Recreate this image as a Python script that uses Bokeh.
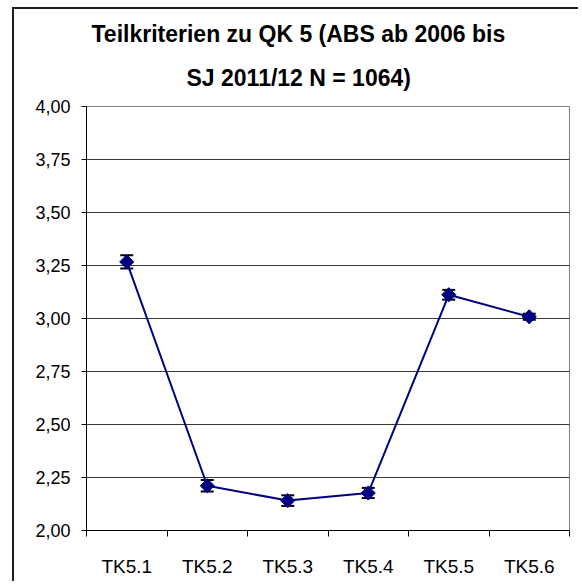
from bokeh.plotting import figure
from bokeh.models import (ColumnDataSource, Whisker, TeeHead, FixedTicker,
                          CustomJSTickFormatter, Range1d, Title)
from bokeh.embed import file_html
from bokeh.resources import INLINE

categories = ["TK5.1", "TK5.2", "TK5.3", "TK5.4", "TK5.5", "TK5.6"]
means = [3.267, 2.211, 2.141, 2.177, 3.112, 3.008]
errors = [0.031, 0.027, 0.025, 0.024, 0.023, 0.014]
y_ticks = [2.00, 2.25, 2.50, 2.75, 3.00, 3.25, 3.50, 3.75, 4.00]
title_lines = ["Teilkriterien zu QK 5 (ABS ab 2006 bis", "SJ 2011/12 N = 1064)"]

centers = [i + 0.5 for i in range(len(categories))]
bounds = list(range(len(categories) + 1))

src = ColumnDataSource(dict(
    x=centers, y=means,
    upper=[m + e for m, e in zip(means, errors)],
    lower=[m - e for m, e in zip(means, errors)],
))

FONT = "Liberation Sans"

p = figure(width=566, height=574, output_backend="svg", toolbar_location=None,
           title=None,
           x_range=Range1d(0, len(categories)), y_range=Range1d(y_ticks[0], y_ticks[-1]),
           min_border_left=72, min_border_right=11, min_border_bottom=53,
           min_border_top=97,
           background_fill_color="white", border_fill_color="white",
           styles={"margin-left": "12px", "margin-top": "7px",
                   "border-left": "2px solid #1e1e1e", "border-top": "2px solid #1e1e1e"})

p.add_layout(Title(text=title_lines[1], align="left", offset=100, standoff=32,
                   text_font=FONT, text_font_size="23px", text_font_style="bold",
                   text_color="black"), "above")
p.add_layout(Title(text=title_lines[0], align="left", offset=5, standoff=0,
                   text_font=FONT, text_font_size="23px", text_font_style="bold",
                   text_color="black"), "above")

p.outline_line_color = "#808080"
p.outline_line_width = 1

# grid
p.xgrid.visible = False
p.ygrid.grid_line_color = "#3a3a3a"
p.ygrid.grid_line_width = 1

# y axis
p.yaxis.ticker = FixedTicker(ticks=y_ticks)
p.yaxis.formatter = CustomJSTickFormatter(code="return tick.toFixed(2).replace('.', ',');")
p.yaxis.axis_line_color = "black"
p.yaxis.major_tick_line_color = "black"
p.yaxis.major_tick_in = 0
p.yaxis.major_tick_out = 5
p.yaxis.minor_tick_line_color = None
p.yaxis.major_label_text_font = FONT
p.yaxis.major_label_text_font_size = "18px"
p.yaxis.major_label_text_color = "black"
p.yaxis.major_label_standoff = 11

# x axis: labels at category centers, ticks at category boundaries
p.xaxis.ticker = FixedTicker(ticks=centers, minor_ticks=bounds)
p.xaxis.formatter = CustomJSTickFormatter(args=dict(labels=categories),
                                          code="return labels[Math.round(tick - 0.5)];")
p.xaxis.axis_line_color = "black"
p.xaxis.major_tick_line_color = None
p.xaxis.major_tick_in = 0
p.xaxis.major_tick_out = 0
p.xaxis.minor_tick_line_color = "black"
p.xaxis.minor_tick_in = 0
p.xaxis.minor_tick_out = 6
p.xaxis.major_label_text_font = FONT
p.xaxis.major_label_text_font_size = "19px"
p.xaxis.major_label_text_color = "black"
p.xaxis.major_label_standoff = 19

# error bars
w = Whisker(source=src, base="x", upper="upper", lower="lower",
            line_color="black", line_width=1.5,
            upper_head=TeeHead(size=13, line_color="black", line_width=2),
            lower_head=TeeHead(size=13, line_color="black", line_width=2))
p.add_layout(w)

p.line("x", "y", source=src, line_color="#000080", line_width=2)
p.scatter("x", "y", source=src, marker="square", angle=0.785398, size=10,
          fill_color="#000080", line_color="#000080")

open("out.html", "w").write(file_html(p, INLINE))
